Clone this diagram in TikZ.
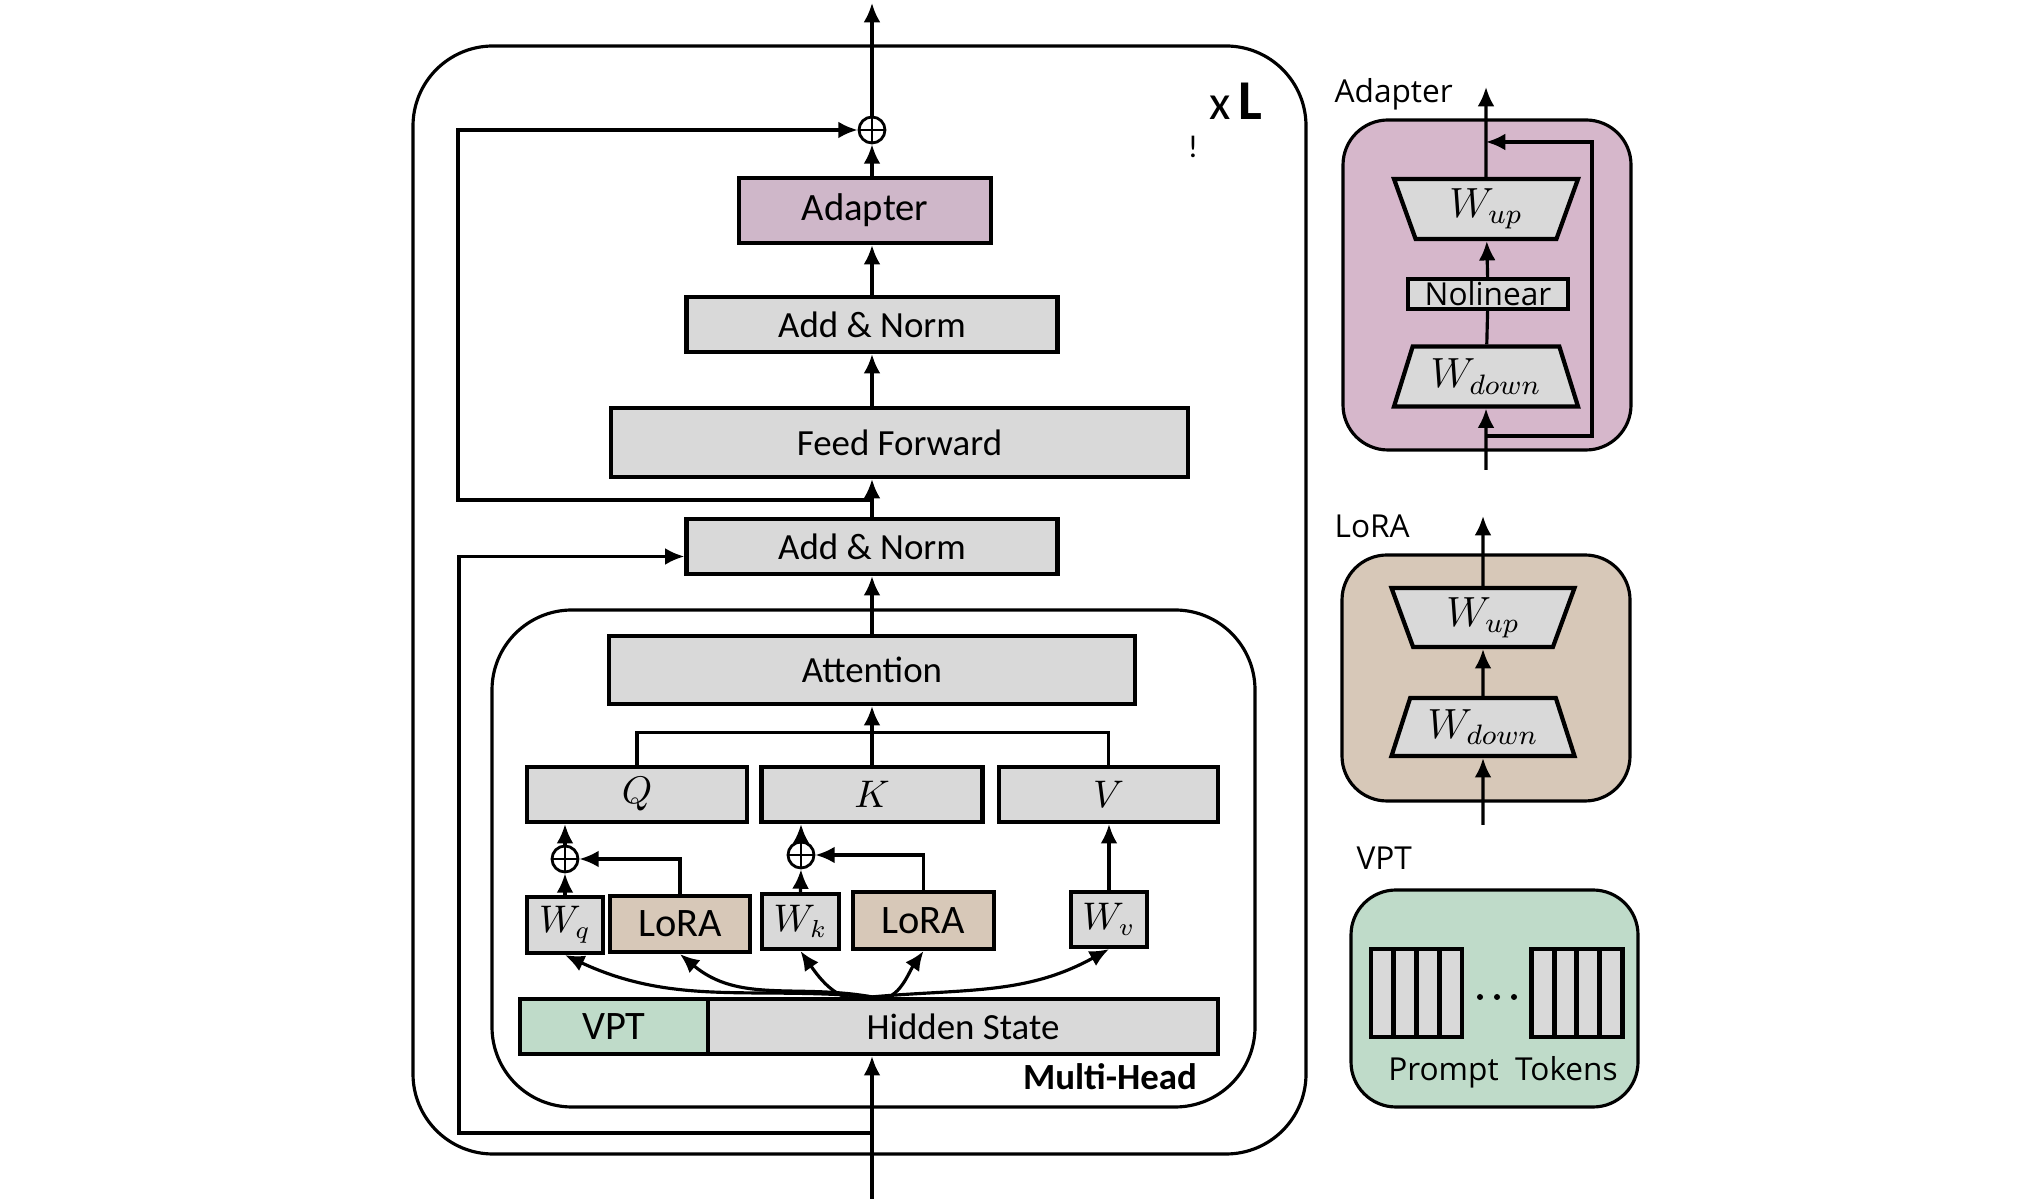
\documentclass[tikz,border=0pt]{standalone}
\usepackage{amsmath}
\usepackage{fontspec}
\setmainfont{Carlito}
\newfontfamily\sidefont{Open Sans}
\usetikzlibrary{positioning,shapes.geometric,arrows.meta}

\definecolor{boxgray}{HTML}{D9D9D9}
\definecolor{adaptpink}{HTML}{CFB7C9}
\definecolor{panelpink}{HTML}{D6B7CB}
\definecolor{loratan}{HTML}{D7C8B8}
\definecolor{vptgreen}{HTML}{BFDBC9}

\begin{document}
\begin{tikzpicture}[
  >={Latex[length=5.5pt,width=4.8pt]},
  line width=0.9pt,
  block/.style={draw, line width=1.2pt, fill=boxgray, inner sep=0pt, font=\fontsize{10.5}{12}\selectfont},
  wbox/.style={block, minimum width=0.76cm, minimum height=0.55cm},
  lorabox/.style={block, fill=loratan, minimum width=1.4cm, minimum height=0.56cm, font=\fontsize{11.5}{13}\selectfont},
  panel/.style={draw, line width=0.9pt, rounded corners=0.45cm},
  frame/.style={draw, line width=0.9pt, rounded corners=0.8cm},
  oplus/.style={circle, draw, line width=0.8pt, inner sep=0pt, minimum size=0.26cm,
    path picture={\draw[line width=0.8pt] (path picture bounding box.north) -- (path picture bounding box.south)
      (path picture bounding box.west) -- (path picture bounding box.east);}},
  trap/.style={trapezium, draw, line width=1.2pt, fill=boxgray, trapezium angle=62,
    trapezium stretches body, minimum width=1.84cm, minimum height=0.6cm, inner sep=0pt,
    font=\fontsize{11.5}{13}\selectfont},
  tok/.style={draw, line width=1.4pt, fill=boxgray, minimum width=0.2275cm, minimum height=0.88cm, inner sep=0pt},
  sidelabel/.style={font=\sidefont\fontsize{9}{11}\selectfont, inner sep=0pt}
]
\useasboundingbox (0,0) rectangle (20.41,12.04);

% outer frames
\node[frame, minimum width=8.93cm, minimum height=11.08cm] (layer) at (8.595,6.04) {};
\node[frame, minimum width=7.63cm, minimum height=4.97cm] (mhead) at (8.735,3.455) {};
\node[font=\fontsize{14}{16}\selectfont] (times) at (12.36,11.03) {x\,\textbf{\fontsize{16}{18}\selectfont L}};
\node[font=\fontsize{9}{10}\selectfont] (bang) at (11.93,10.57) {!};
\node[font=\bfseries\fontsize{10.5}{12}\selectfont] (mhlabel) at (11.1,1.27) {Multi-Head};

% main column
\node[oplus] (plus) at (8.72,10.74) {};
\node[block, fill=adaptpink, minimum width=2.52cm, minimum height=0.65cm, font=\fontsize{11}{13}\selectfont] (adapt) at (8.65,9.935) {Adapter};
\node[block, minimum width=3.71cm, minimum height=0.55cm] (an2) at (8.72,8.795) {Add \& Norm};
\node[block, minimum width=5.77cm, minimum height=0.69cm] (ff) at (8.995,7.615) {Feed Forward};
\node[block, minimum width=3.71cm, minimum height=0.55cm] (an1) at (8.72,6.575) {Add \& Norm};
\node[block, minimum width=5.26cm, minimum height=0.68cm] (attn) at (8.72,5.34) {Attention};

\node[block, minimum width=2.2cm, minimum height=0.55cm] (q) at (6.37,4.095) {$Q$};
\node[block, minimum width=2.21cm, minimum height=0.55cm] (k) at (8.72,4.095) {$K$};
\node[block, minimum width=2.19cm, minimum height=0.55cm] (v) at (11.085,4.095) {$V$};

\node[oplus] (pq) at (5.65,3.45) {};
\node[oplus] (pk) at (8.01,3.49) {};

\node[wbox, minimum height=0.56cm] (wq) at (5.65,2.79) {$W_q$};
\node[lorabox] (lora1) at (6.80,2.80) {LoRA};
\node[wbox, minimum width=0.77cm] (wk) at (8.005,2.825) {$W_k$};
\node[lorabox, minimum width=1.41cm, minimum height=0.57cm] (lora2) at (9.235,2.835) {LoRA};
\node[wbox] (wv) at (11.09,2.845) {$W_v$};

\node[block, fill=vptgreen, minimum width=1.88cm, minimum height=0.55cm, font=\fontsize{11.5}{13}\selectfont] (vpt) at (6.14,1.775) {VPT};
\node[block, minimum width=5.1cm, minimum height=0.55cm] (hid) at (9.63,1.775) {Hidden State};

\coordinate (split) at (hid.north -| k.south);
\coordinate (in) at (8.72,0.05);
\coordinate (out) at (8.72,12.01);
\coordinate (r1) at (8.72,0.71);
\coordinate (r2) at (8.72,7.04);

\draw[->] (in) -- (in |- hid.south);
\draw[->] (split) to[out=175,in=-25] (wq.south);
\draw[->] (split) to[out=170,in=-40] (lora1.south);
\draw[->] (split) to[out=200,in=-55] (wk.south);
\draw[->] (split) to[out=-20,in=-125] (lora2.south);
\draw[->] (split) to[out=5,in=-151] (wv.south);

\draw[->] (wq.north) -- (pq.south);
\draw[->] (pq.north) -- (pq.north |- q.south);
\draw[->] (lora1.north) |- (pq.east);
\draw[->] (wk.north) -- (pk.south);
\draw[->] (pk.north) -- (pk.north |- k.south);
\draw[->] (lora2.north) |- (pk.east);
\draw[->] (wv.north) -- (wv.north |- v.south);

\draw (q.north) -- ++(0,0.32) -| (v.north);
\draw[->] (k.north) -- (attn.south);
\draw[->] (attn.north) -- (an1.south);
\draw[->] (an1.north) -- (an1.north |- ff.south);
\draw[->] (an2.south |- ff.north) -- (an2.south);
\draw[->] (an2.north) -- (an2.north |- adapt.south);
\draw[->] (an2.north |- adapt.north) -- (plus.south);
\draw[->] (plus.north) -- (out);

% residual paths
\draw[->] (r2) -- ++(-4.14,0) |- (plus.west);
\draw[->] (r1) -- ++(-4.13,0) |- ([yshift=-0.1cm]an1.west);

% adapter detail
\node[sidelabel, anchor=base west] (adlabel) at (13.33,11.01) {Adapter};
\node[panel, fill=panelpink, minimum width=2.88cm, minimum height=3.3cm] (adpanel) at (14.87,9.19) {};
\node[trap, shape border rotate=180] (wupA) at (14.86,9.95) {$W_{up}$};
\node[block, minimum width=1.6cm, minimum height=0.3cm, font=\sidefont\fontsize{9}{10}\selectfont] (nl) at (14.88,9.10) {Nolinear};
\node[trap] (wdnA) at (14.86,8.275) {$W_{down}$};
\coordinate (ainA) at (14.86,7.34);
\coordinate (aoutA) at (14.86,11.17);
\coordinate (askip) at (14.86,7.68);
\coordinate (amerge) at (14.86,10.62);
\draw[->] (ainA) -- (wdnA);
\draw (wdnA) -- (nl);
\draw[->] (nl) -- (wupA);
\draw[->] (wupA) -- (aoutA);
\draw[->] (askip) -- ++(1.06,0) |- (amerge);

% lora detail
\node[sidelabel, anchor=base west] (lolabel) at (13.33,6.66) {LoRA};
\node[panel, fill=loratan, minimum width=2.88cm, minimum height=2.46cm] (lopanel) at (14.86,5.26) {};
\node[trap, shape border rotate=180, minimum width=1.83cm, minimum height=0.59cm] (wupL) at (14.83,5.865) {$W_{up}$};
\node[trap, minimum width=1.83cm, minimum height=0.58cm] (wdnL) at (14.83,4.77) {$W_{down}$};
\coordinate (ainL) at (14.83,3.79);
\coordinate (aoutL) at (14.83,6.88);
\draw[->] (ainL) -- (wdnL);
\draw[->] (wdnL) -- (wupL);
\draw[->] (wupL) -- (aoutL);

% vpt detail
\node[sidelabel, anchor=base west] (vplabel) at (13.55,3.34) {VPT};
\node[panel, fill=vptgreen, minimum width=2.87cm, minimum height=2.17cm] (vppanel) at (14.945,2.055) {};
\foreach \i in {0,1,2,3} {
  \node[tok] (tl\i) at ({13.71+0.2275*(\i+0.5)},2.11) {};
  \node[tok] (tr\i) at ({15.32+0.2250*(\i+0.5)},2.11) {};
}
\foreach \d in {0,1,2}
  \fill ({14.80+0.17*\d},2.07) circle (0.03);
\node[sidelabel, anchor=base] (ptok) at (15.03,1.23) {Prompt\ \ Tokens};
\end{tikzpicture}
\end{document}
